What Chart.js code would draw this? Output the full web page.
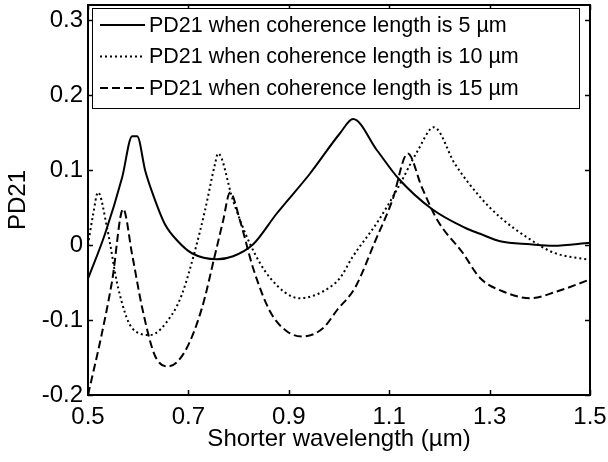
<!DOCTYPE html>
<html>
<head>
<meta charset="utf-8">
<script src="https://cdn.jsdelivr.net/npm/chart.js@4"></script>
<style>
  body { margin: 0; background: #fff; }
  #wrap { width: 608px; height: 462px; }
</style>
</head>
<body>
<div id="wrap"><canvas id="myChart" width="608" height="462"></canvas></div>
<script>
// wavelength (um) and PD21 for each coherence length
var wl5  = [0.5, 0.534, 0.568, 0.588, 0.598, 0.614, 0.627, 0.653, 0.679, 0.707, 0.757, 0.789, 0.829, 0.876, 0.942, 1.002, 1.028, 1.076, 1.118, 1.185, 1.251, 1.281, 1.321, 1.381, 1.427, 1.5];
var pd5  = [-0.045, 0.015, 0.09, 0.145, 0.145, 0.099, 0.072, 0.028, 0.005, -0.011, -0.019, -0.015, 0.001, 0.042, 0.095, 0.149, 0.168, 0.126, 0.089, 0.048, 0.023, 0.015, 0.005, 0.001, -0.001, 0.003];

var wl10 = [0.5, 0.51, 0.52, 0.538, 0.56, 0.588, 0.624, 0.667, 0.687, 0.713, 0.733, 0.753, 0.759, 0.789, 0.823, 0.863, 0.922, 0.968, 1.002, 1.026, 1.078, 1.118, 1.157, 1.189, 1.231, 1.281, 1.321, 1.375, 1.427, 1.5];
var pd10 = [0.0, 0.04, 0.07, 0.023, -0.057, -0.111, -0.12, -0.093, -0.066, -0.008, 0.046, 0.108, 0.122, 0.059, 0.001, -0.044, -0.071, -0.062, -0.044, -0.017, 0.032, 0.077, 0.126, 0.157, 0.108, 0.064, 0.037, 0.010, -0.010, -0.020];

var wl15 = [0.5, 0.527, 0.548, 0.570, 0.588, 0.608, 0.633, 0.659, 0.693, 0.727, 0.753, 0.769, 0.783, 0.803, 0.829, 0.863, 0.896, 0.928, 0.968, 0.997, 1.032, 1.072, 1.106, 1.137, 1.165, 1.197, 1.246, 1.281, 1.327, 1.381, 1.434, 1.5];
var pd15 = [-0.2, -0.12, -0.048, 0.048, -0.013, -0.084, -0.147, -0.162, -0.142, -0.084, -0.013, 0.032, 0.070, 0.032, -0.031, -0.089, -0.115, -0.122, -0.111, -0.086, -0.057, 0.005, 0.059, 0.122, 0.077, 0.032, -0.010, -0.044, -0.062, -0.071, -0.062, -0.046];

var xTicks = [0.5, 0.7, 0.9, 1.1, 1.3, 1.5];
var yTicks = [-0.2, -0.1, 0, 0.1, 0.2, 0.3];

var labels = [
  'PD21 when coherence length is 5 \u00b5m',
  'PD21 when coherence length is 10 \u00b5m',
  'PD21 when coherence length is 15 \u00b5m'
];

function pts(xs, ys) {
  return xs.map(function(x, i) { return {x: x, y: ys[i]}; });
}

var FONT = 'Arial, "Liberation Sans", sans-serif';

// matlab style box + inward ticks + legend inside the axes
var boxPlugin = {
  id: 'box',
  afterDatasetsDraw: function(chart) {
    var c = chart.ctx, a = chart.chartArea;
    var xs = chart.scales.x, ys = chart.scales.y;
    c.save();
    c.strokeStyle = '#000';
    c.lineWidth = 2;
    c.strokeRect(a.left, a.top, a.right - a.left, a.bottom - a.top);
    c.lineWidth = 1.5;
    c.beginPath();
    xTicks.forEach(function(v) {
      var px = Math.round(xs.getPixelForValue(v)) + 0.5;
      c.moveTo(px, a.bottom); c.lineTo(px, a.bottom - 5);
      c.moveTo(px, a.top); c.lineTo(px, a.top + 5);
    });
    yTicks.forEach(function(v) {
      var py = Math.round(ys.getPixelForValue(v)) + 0.5;
      c.moveTo(a.left, py); c.lineTo(a.left + 5, py);
      c.moveTo(a.right, py); c.lineTo(a.right - 5, py);
    });
    c.stroke();

    // legend
    var lx = 92, ly = 8, lw = 487, lh = 100;
    c.fillStyle = '#fff';
    c.fillRect(lx, ly, lw, lh);
    c.lineWidth = 1;
    c.strokeRect(lx + 0.5, ly + 0.5, lw, lh);
    c.font = '21.5px ' + FONT;
    c.textBaseline = 'middle';
    c.textAlign = 'left';
    chart.data.datasets.forEach(function(ds, i) {
      var y = 25 + i * 31.5;
      c.strokeStyle = '#000';
      c.lineWidth = ds.borderWidth;
      c.setLineDash(ds.borderDash || []);
      c.beginPath();
      c.moveTo(100, y); c.lineTo(145, y);
      c.stroke();
      c.setLineDash([]);
      c.fillStyle = '#000';
      c.fillText(ds.label, 149, y + 1);
    });
    c.restore();
  }
};

var ctx = document.getElementById('myChart');
var myChart = new Chart(ctx, {
  type: 'line',
  data: {
    datasets: [{
      label: labels[0],
      data: pts(wl5, pd5),
      borderColor: '#000',
      borderWidth: 2,
      pointRadius: 0,
      cubicInterpolationMode: 'monotone'
    }, {
      label: labels[1],
      data: pts(wl10, pd10),
      borderColor: '#000',
      borderWidth: 2,
      borderDash: [2, 3],
      pointRadius: 0,
      cubicInterpolationMode: 'monotone'
    }, {
      label: labels[2],
      data: pts(wl15, pd15),
      borderColor: '#000',
      borderWidth: 2,
      borderDash: [8, 4],
      pointRadius: 0,
      cubicInterpolationMode: 'monotone'
    }]
  },
  options: {
    responsive: false,
    animation: false,
    devicePixelRatio: 1,
    layout: { padding: { top: 5, right: 18, left: 0, bottom: 0 } },
    plugins: { legend: { display: false }, tooltip: { enabled: false } },
    scales: {
      x: {
        type: 'linear',
        min: 0.5, max: 1.5,
        afterFit: function(s) { s.height = 67; s.paddingLeft = 0; s.paddingRight = 0; },
        afterBuildTicks: function(s) { s.ticks = xTicks.map(function(v) { return {value: v}; }); },
        grid: { display: true, drawOnChartArea: false, drawTicks: false },
        border: { display: true, color: '#000', width: 2 },
        ticks: {
          color: '#000', padding: 8, maxRotation: 0,
          font: { family: FONT, size: 24 },
          callback: function(v) { return String(+v.toFixed(1)); }
        },
        title: {
          display: true, text: 'Shorter wavelength (\u00b5m)', color: '#000',
          font: { family: FONT, size: 24 }, padding: { top: 0, bottom: 8 }
        }
      },
      y: {
        min: -0.2, max: 0.32,
        afterFit: function(s) { s.width = 88; s.paddingTop = 0; s.paddingBottom = 0; },
        afterBuildTicks: function(s) { s.ticks = yTicks.map(function(v) { return {value: v}; }); },
        grid: { display: true, drawOnChartArea: false, drawTicks: false },
        border: { display: true, color: '#000', width: 2 },
        ticks: {
          color: '#000', padding: 5,
          font: { family: FONT, size: 24 },
          callback: function(v) { return String(+v.toFixed(1)); }
        },
        title: {
          display: true, text: 'PD21', color: '#000',
          font: { family: FONT, size: 24 }, padding: { top: 4, bottom: 0 }
        }
      }
    }
  },
  plugins: [boxPlugin]
});
</script>
</body>
</html>
